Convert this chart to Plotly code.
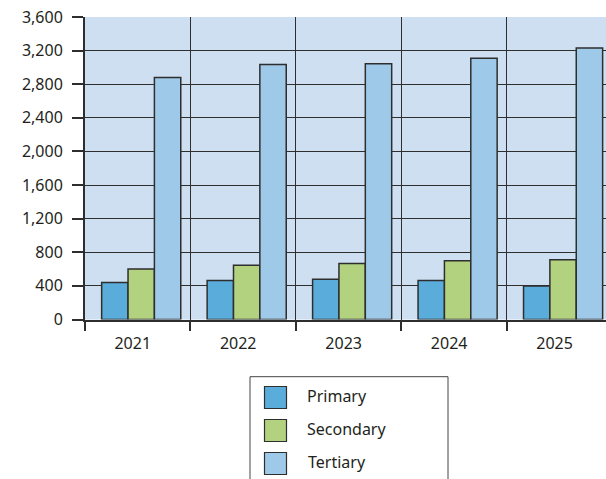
import plotly.graph_objects as go

# datos
years = ["2021", "2022", "2023", "2024", "2025"]
primary = [440, 465, 480, 465, 400]
secondary = [600, 645, 665, 700, 710]
tertiary = [2880, 3035, 3045, 3110, 3230]

series_names = ["Primary", "Secondary", "Tertiary"]
series_colors = ["#5aaddb", "#b2d27f", "#9fc9e8"]
y_ticks = list(range(0, 3601, 400))

W, H = 606, 479
FONT = "Noto Sans"
DARK = "#2e2e2e"

fig = go.Figure()

# barras (desplazamiento a mano, como en el original)
offsets = [-0.342, -0.092, 0.158]
for name, vals, col, off in zip(series_names, [primary, secondary, tertiary], series_colors, offsets):
    fig.add_trace(go.Bar(
        x=years, y=vals, name=name, width=0.25, offset=off,
        marker=dict(color=col, line=dict(color=DARK, width=1.5)),
        showlegend=False, xaxis="x", yaxis="y",
    ))

# leyenda propia (cuadros grandes)
row_y = [81.5 - i * 33 for i in range(len(series_names))]
fig.add_trace(go.Scatter(
    x=[25.5] * len(series_names), y=row_y, mode="markers",
    marker=dict(symbol="square", size=22, color=series_colors,
                line=dict(color=DARK, width=1.2)),
    showlegend=False, hoverinfo="skip", xaxis="x2", yaxis="y2",
))
fig.add_trace(go.Scatter(
    x=[57, 57, 58], y=[v - 1 for v in row_y], mode="text", text=series_names,
    textposition="middle right", textfont=dict(family=FONT, size=16, color="#231f20"),
    showlegend=False, hoverinfo="skip", xaxis="x2", yaxis="y2",
))

fig.update_layout(
    template="none",
    width=W, height=H,
    margin=dict(l=0, r=0, t=0, b=0, autoexpand=False),
    paper_bgcolor="white",
    plot_bgcolor="rgba(0,0,0,0)",
    barmode="overlay",
    font=dict(family=FONT, size=16, color="#231f20"),
    xaxis=dict(
        type="category", domain=[85 / W, 1], range=[-0.5, 4.44],
        tickson="boundaries", ticks="outside", ticklen=10, tickwidth=1.5, tickcolor=DARK,
        showgrid=True, gridcolor=DARK, gridwidth=1.3,
        showline=True, linecolor=DARK, linewidth=1.5,
        ticklabelshift=-5, ticklabelstandoff=9, automargin=False, anchor="y",
    ),
    yaxis=dict(
        domain=[(H - 319.5) / H, (H - 17) / H], range=[0, 3600],
        tickvals=y_ticks, tickformat=",d",
        ticks="outside", ticklen=11, tickwidth=1.5, tickcolor=DARK,
        showgrid=True, gridcolor=DARK, gridwidth=1.3, zeroline=False,
        showline=True, linecolor=DARK, linewidth=2,
        ticklabelstandoff=6, automargin=False, anchor="x",
    ),
    xaxis2=dict(domain=[250 / W, 448 / W], range=[0, 198], visible=False,
                automargin=False, anchor="y2"),
    yaxis2=dict(domain=[0, (H - 376.7) / H], range=[0, H - 376.7], visible=False,
                automargin=False, anchor="x2"),
    shapes=[
        # fondo azul del área de barras
        dict(type="rect", xref="x domain", yref="y domain", x0=0, x1=1, y0=0, y1=1,
             fillcolor="#cddff0", line=dict(width=0), layer="below"),
        # marco de la leyenda
        dict(type="rect", xref="paper", yref="paper",
             x0=250 / W, x1=448 / W, y0=-0.05, y1=(H - 376.7) / H,
             line=dict(color="#444", width=1), layer="below"),
    ],
)

# quitar el margen de 8px del body y la barra de herramientas
fig.write_html("out.html", config={"displayModeBar": False},
               post_script="document.body.style.margin='0';")
